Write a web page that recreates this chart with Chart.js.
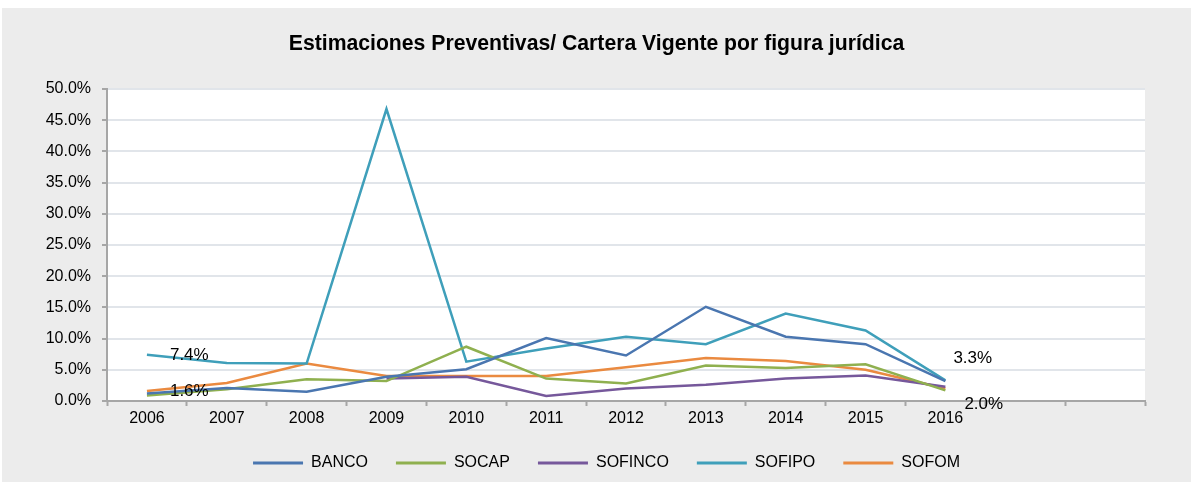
<!DOCTYPE html>
<html>
<head>
<meta charset="utf-8">
<title>Estimaciones Preventivas / Cartera Vigente</title>
<script src="https://cdn.jsdelivr.net/npm/chart.js"></script>
<style>
  html, body { margin: 0; padding: 0; background: #fff; }
  #panel { position: absolute; left: 2px; top: 8px; width: 1189px; height: 474px; background: #ececec; }
</style>
</head>
<body>
<div id="panel"><canvas id="grafica"></canvas></div>
<script>
// categorias (dos huecos vacios al final, como en el original)
const anios = ['2006', '2007', '2008', '2009', '2010', '2011', '2012', '2013', '2014', '2015', '2016', '', ''];

// valores en %
const banco   = [1.2, 2.1, 1.5, 3.9, 5.1, 10.1, 7.3, 15.1, 10.3, 9.1, 3.2];
const socap   = [0.9, 1.9, 3.5, 3.2, 8.7, 3.6, 2.8, 5.7, 5.3, 5.9, 1.7];
const sofinco = [null, null, null, 3.6, 3.9, 0.8, 2.0, 2.6, 3.6, 4.1, 2.3];
const sofipo  = [7.4, 6.1, 6.0, 46.8, 6.3, 8.4, 10.3, 9.1, 14.0, 11.3, 3.3];
const sofom   = [1.6, 2.9, 6.0, 4.0, 4.0, 4.0, 5.4, 6.9, 6.4, 5.0, 2.0];

const series  = ['BANCO', 'SOCAP', 'SOFINCO', 'SOFIPO', 'SOFOM'];
const colores = ['#4a76b0', '#8fb04f', '#76589b', '#3f9fba', '#ea8a40'];

// etiquetas de datos: serie, punto, texto
const etiquetas = [
    { serie: 3, punto: 0, texto: '7.4%', dx: 23, dy: 0 },
    { serie: 4, punto: 0, texto: '1.6%', dx: 23, dy: 0 },
    { serie: 3, punto: 10, texto: '3.3%', dx: 8, dy: -22 },
    { serie: 4, punto: 10, texto: '2.0%', dx: 19, dy: 16 }
];

const fuente = "'Liberation Sans', Arial, sans-serif";
const gris = '#a6a6a6';

// fondo blanco del area de trazado
const fondoArea = {
    id: 'fondoArea',
    beforeDraw(chart) {
        const { ctx, chartArea: a } = chart;
        ctx.save();
        ctx.fillStyle = '#ffffff';
        ctx.fillRect(a.left, a.top, a.right - a.left, a.bottom - a.top);
        ctx.restore();
    }
};

// titulo centrado en el panel, leyenda algo a la derecha
const centrar = {
    id: 'centrar',
    afterLayout(chart) {
        chart.titleBlock.left += 23;
        chart.titleBlock.right += 23;
        chart.legend.left += 33;
        chart.legend.right += 33;
    }
};

const etiquetasDatos = {
    id: 'etiquetasDatos',
    afterDatasetsDraw(chart) {
        const ctx = chart.ctx;
        ctx.save();
        ctx.font = '17px ' + fuente;
        ctx.fillStyle = '#000';
        ctx.textAlign = 'left';
        ctx.textBaseline = 'middle';
        etiquetas.forEach(e => {
            const p = chart.getDatasetMeta(e.serie).data[e.punto];
            ctx.fillText(e.texto, p.x + e.dx, p.y + e.dy);
        });
        ctx.restore();
    }
};

const valores = [banco, socap, sofinco, sofipo, sofom];

new Chart(document.getElementById('grafica'), {
    type: 'line',
    data: {
        labels: anios,
        datasets: series.map((s, i) => ({
            label: s,
            data: valores[i],
            borderColor: colores[i],
            backgroundColor: colores[i],
            borderWidth: 2.5,
            pointRadius: 0,
            tension: 0,
            spanGaps: false
        }))
    },
    options: {
        responsive: true,
        maintainAspectRatio: false,
        animation: false,
        layout: { padding: { left: 0, right: 46, top: 0, bottom: 1 } },
        plugins: {
            title: {
                display: true,
                text: 'Estimaciones Preventivas/ Cartera Vigente por figura jurídica',
                color: '#000',
                font: { family: fuente, size: 21.2, weight: 'bold' },
                padding: { top: 23, bottom: 32.6 }
            },
            legend: {
                position: 'bottom',
                labels: {
                    color: '#000',
                    font: { family: fuente, size: 16 },
                    boxWidth: 50,
                    boxHeight: 3,
                    padding: 28,
                    generateLabels: chart => Chart.defaults.plugins.legend.labels.generateLabels(chart)
                        .map(l => ({ ...l, lineWidth: 0 }))
                }
            },
            tooltip: { enabled: false }
        },
        scales: {
            x: {
                offset: true,
                grid: {
                    offset: true,
                    drawOnChartArea: false,
                    tickLength: 5,
                    tickColor: gris,
                    tickWidth: 2
                },
                border: { color: gris, width: 2 },
                ticks: {
                    color: '#000',
                    font: { family: fuente, size: 16 },
                    padding: 3,
                    maxRotation: 0,
                    autoSkip: false
                },
                afterFit: scale => { scale.height = 26; }
            },
            y: {
                min: 0,
                max: 50,
                grid: {
                    color: '#e1e5ea',
                    lineWidth: 2,
                    tickLength: 5,
                    tickColor: gris,
                    tickWidth: 2
                },
                border: { color: gris, width: 2 },
                ticks: {
                    stepSize: 5,
                    color: '#000',
                    font: { family: fuente, size: 16 },
                    padding: 11,
                    callback: v => v.toFixed(1) + '%'
                },
                afterFit: scale => { scale.width = 105; }
            }
        }
    },
    plugins: [fondoArea, centrar, etiquetasDatos]
});
</script>
</body>
</html>
